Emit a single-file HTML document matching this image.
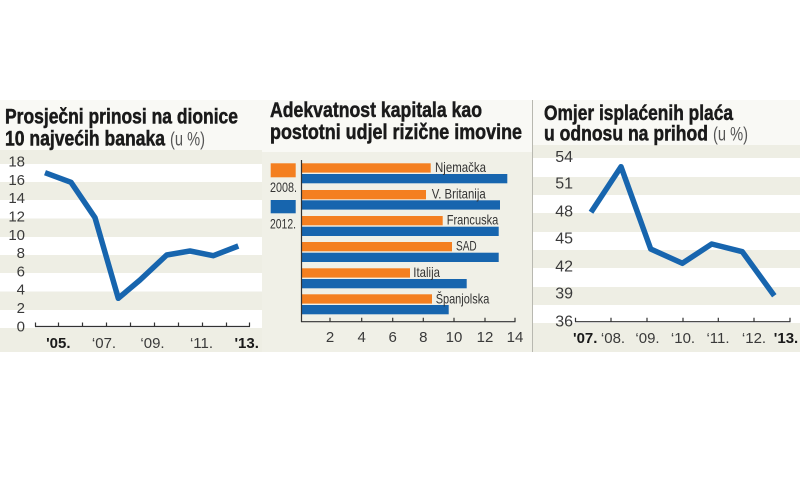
<!DOCTYPE html>
<html><head><meta charset="utf-8"><style>
html,body{margin:0;padding:0;background:#fff;}
svg{display:block;}
text{font-family:"Liberation Sans Narrow","Liberation Sans",sans-serif;}
</style></head><body>
<svg width="800" height="480" viewBox="0 0 800 480" xmlns="http://www.w3.org/2000/svg">
<rect width="800" height="480" fill="#fff"/>
<!-- panel backgrounds -->
<rect x="0" y="100" width="800" height="252" fill="#f9f9f5"/>
<!-- left beige stripes -->
<g fill="#eeeee4">
<rect x="0" y="150" width="262" height="14"/>
<rect x="0" y="182" width="262" height="18"/>
<rect x="0" y="218.5" width="262" height="18.5"/>
<rect x="0" y="255" width="262" height="18"/>
<rect x="0" y="291.5" width="262" height="18.5"/>
<rect x="0" y="328" width="262" height="24"/>
</g>
<g fill="#fff">
<rect x="0" y="164" width="262" height="18"/>
<rect x="0" y="200" width="262" height="18.5"/>
<rect x="0" y="237" width="262" height="18"/>
<rect x="0" y="273" width="262" height="18.5"/>
<rect x="0" y="310" width="262" height="18"/>
</g>
<!-- middle bg -->
<rect x="262" y="152" width="270" height="200" fill="#f0f0e7"/>
<!-- right stripes -->
<g fill="#eeeee4">
<rect x="533" y="145" width="267" height="13"/>
<rect x="533" y="177" width="267" height="18"/>
<rect x="533" y="213" width="267" height="19"/>
<rect x="533" y="250" width="267" height="18"/>
<rect x="533" y="287" width="267" height="18"/>
<rect x="533" y="323" width="267" height="29"/>
</g>
<g fill="#fff">
<rect x="533" y="158" width="267" height="19"/>
<rect x="533" y="195" width="267" height="18"/>
<rect x="533" y="232" width="267" height="18"/>
<rect x="533" y="268" width="267" height="19"/>
<rect x="533" y="305" width="267" height="18"/>
</g>
<line x1="532.5" y1="100" x2="532.5" y2="352" stroke="#b8b8b0" stroke-width="1"/>

<!-- LEFT titles -->
<g font-weight="bold" fill="#1a1a1a" stroke="#1a1a1a" stroke-width="0.5" font-size="21">
<text x="5" y="123.5" textLength="233" lengthAdjust="spacingAndGlyphs">Prosječni prinosi na dionice</text>
<text x="5" y="145.5" textLength="160" lengthAdjust="spacingAndGlyphs">10 najvećih banaka</text>
<text x="270" y="117" textLength="212" lengthAdjust="spacingAndGlyphs">Adekvatnost kapitala kao</text>
<text x="270" y="139" textLength="252" lengthAdjust="spacingAndGlyphs">postotni udjel rizične imovine</text>
<text x="544" y="120" textLength="189" lengthAdjust="spacingAndGlyphs">Omjer isplaćenih plaća</text>
<text x="544" y="140.5" textLength="164" lengthAdjust="spacingAndGlyphs">u odnosu na prihod</text>
</g>
<text x="170" y="145.5" font-size="19" fill="#555" textLength="35" lengthAdjust="spacingAndGlyphs">(u %)</text>
<text x="713" y="140.5" font-size="19" fill="#555" textLength="35" lengthAdjust="spacingAndGlyphs">(u %)</text>

<!-- left y labels -->
<g font-size="15" fill="#3a3a3a" text-anchor="end">
<text x="25" y="166.7">18</text>
<text x="25" y="185">16</text>
<text x="25" y="203.2">14</text>
<text x="25" y="221.5">12</text>
<text x="25" y="239.8">10</text>
<text x="25" y="258">8</text>
<text x="25" y="276.3">6</text>
<text x="25" y="294.5">4</text>
<text x="25" y="312.8">2</text>
<text x="25" y="331.5">0</text>
</g>
<!-- left axis -->
<g stroke="#333" stroke-width="1.2" fill="none">
<line x1="35" y1="326.5" x2="250" y2="326.5"/>
<path d="M35.5 326.5v-4M58.5 326.5v-4M82.5 326.5v-4M106.5 326.5v-4M130.5 326.5v-4M154.5 326.5v-4M178.5 326.5v-4M202.5 326.5v-4M226.5 326.5v-4M249.5 326.5v-4"/>
</g>
<g font-size="15" fill="#3a3a3a" text-anchor="middle">
<text x="58.3" y="348" font-weight="bold" fill="#1a1a1a">'05.</text>
<text x="104" y="348">‘07.</text>
<text x="152.5" y="348">‘09.</text>
<text x="201.5" y="348">‘11.</text>
<text x="246.7" y="348" font-weight="bold" fill="#1a1a1a">'13.</text>
</g>
<polyline points="45,172.7 71,182.3 95,217.7 118.3,298.3 140,280 166.7,255 190,251 213.3,255.7 238.3,246" fill="none" stroke="#1765ae" stroke-width="5.5" stroke-linejoin="round"/>

<!-- legend -->
<rect x="270.7" y="163.3" width="25" height="14" fill="#f47f20"/>
<text x="270" y="192" font-size="14" fill="#333" textLength="27" lengthAdjust="spacingAndGlyphs">2008.</text>
<rect x="270.7" y="200" width="25" height="13.3" fill="#1765ae"/>
<text x="270" y="228.5" font-size="14" fill="#333" textLength="26" lengthAdjust="spacingAndGlyphs">2012.</text>

<!-- bars -->
<g fill="#f47f20">
<rect x="302" y="163.3" width="128.7" height="9.3"/>
<rect x="302" y="190" width="124" height="9.3"/>
<rect x="302" y="216" width="140.7" height="9.3"/>
<rect x="302" y="242" width="150" height="9.3"/>
<rect x="302" y="268.3" width="108" height="9.3"/>
<rect x="302" y="294.3" width="130" height="9.3"/>
</g>
<g fill="#1765ae">
<rect x="302" y="174" width="205.3" height="9.3"/>
<rect x="302" y="200.3" width="198" height="9.3"/>
<rect x="302" y="226.7" width="196.7" height="9.3"/>
<rect x="302" y="252.7" width="196.7" height="9.3"/>
<rect x="302" y="279" width="164.7" height="9.3"/>
<rect x="302" y="305" width="146.7" height="9.3"/>
</g>
<g font-size="14" fill="#333">
<text x="435" y="172" textLength="51" lengthAdjust="spacingAndGlyphs">Njemačka</text>
<text x="431.7" y="198.5" textLength="54" lengthAdjust="spacingAndGlyphs">V. Britanija</text>
<text x="446.7" y="224.5" textLength="51.6" lengthAdjust="spacingAndGlyphs">Francuska</text>
<text x="456" y="250.5" textLength="20.7" lengthAdjust="spacingAndGlyphs">SAD</text>
<text x="413.3" y="277" textLength="26.7" lengthAdjust="spacingAndGlyphs">Italija</text>
<text x="435.7" y="303.5" textLength="53.6" lengthAdjust="spacingAndGlyphs">Španjolska</text>
</g>
<g stroke="#333" stroke-width="1.2" fill="none">
<line x1="301.5" y1="160" x2="301.5" y2="322"/>
<line x1="301" y1="321.7" x2="515.5" y2="321.7"/>
<path d="M330 321.7v-4M361.7 321.7v-4M392.7 321.7v-4M423.3 321.7v-4M454 321.7v-4M485 321.7v-4M515 321.7v-4"/>
</g>
<g font-size="15" fill="#3a3a3a" text-anchor="middle">
<text x="330" y="342">2</text>
<text x="361.7" y="342">4</text>
<text x="392.7" y="342">6</text>
<text x="423.3" y="342">8</text>
<text x="454" y="342">10</text>
<text x="485" y="342">12</text>
<text x="515" y="342">14</text>
</g>

<g font-size="16" fill="#3a3a3a" text-anchor="end">
<text x="573" y="162">54</text>
<text x="573" y="188.5">51</text>
<text x="573" y="216.5">48</text>
<text x="573" y="243.5">45</text>
<text x="573" y="271.5">42</text>
<text x="573" y="298.5">39</text>
<text x="573" y="326.5">36</text>
</g>
<g stroke="#333" stroke-width="1.2" fill="none">
<line x1="575" y1="321.7" x2="790.5" y2="321.7"/>
<path d="M575.5 321.7v-4M611 321.7v-4M647 321.7v-4M683 321.7v-4M718.3 321.7v-4M754 321.7v-4M790 321.7v-4"/>
</g>
<g font-size="15" fill="#3a3a3a" text-anchor="middle">
<text x="573" y="343" text-anchor="start" font-weight="bold" fill="#1a1a1a">'07.</text>
<text x="613" y="343">‘08.</text>
<text x="647.5" y="343">‘09.</text>
<text x="683" y="343">‘10.</text>
<text x="718" y="343">‘11.</text>
<text x="754" y="343">‘12.</text>
<text x="786" y="343" font-weight="bold" fill="#1a1a1a">'13.</text>
</g>
<polyline points="591,212.3 621,166.7 650.7,249 682.3,263.3 711.7,244 742.3,251.7 774.3,295.7" fill="none" stroke="#1765ae" stroke-width="5.5" stroke-linejoin="round"/>
</svg>
</body></html>
